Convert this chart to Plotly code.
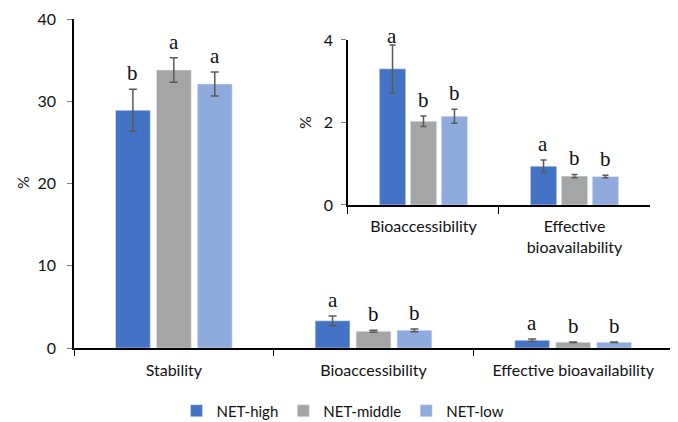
import plotly.graph_objects as go

categories = ["Stability", "Bioaccessibility", "Effective bioavailability"]
inset_categories = ["Bioaccessibility", "Effective bioavailability"]
inset_ticktext = ["Bioaccessibility", "Effective<br>bioavailability"]
series = ["NET-high", "NET-middle", "NET-low"]
y_title = "%"

high = [28.9, 3.30, 0.94]
middle = [33.8, 2.03, 0.70]
low = [32.1, 2.15, 0.69]
high_err = [2.55, 0.58, 0.15]
middle_err = [1.5, 0.13, 0.04]
low_err = [1.45, 0.17, 0.03]
high_letters = ["b", "a", "a"]
middle_letters = ["a", "b", "b"]
low_letters = ["a", "b", "b"]

main_range = [0, 40]
inset_range = [0, 4]

colors = ["#4472C4", "#A5A5A5", "#8FAADC"]
values = [high, middle, low]
errors = [high_err, middle_err, low_err]
letters = [high_letters, middle_letters, low_letters]

TICKFONT = dict(family="Lato, Open Sans, sans-serif", size=16, color="#111")
LEGFONT = dict(family="Lato, Open Sans, sans-serif", size=15, color="#111")
LETTERFONT = dict(family="Liberation Serif, Times New Roman, serif", size=21, color="#111")

fig = go.Figure()

for name, vals, errs, col in zip(series, values, errors, colors):
    fig.add_trace(go.Bar(
        name=name, x=categories, y=vals, marker_color=col,
        error_y=dict(type="data", array=errs, color="#595959", thickness=1.5, width=4),
        xaxis="x", yaxis="y", showlegend=True,
    ))

for name, vals, errs, col in zip(series, values, errors, colors):
    fig.add_trace(go.Bar(
        name=name, x=inset_categories, y=vals[1:], marker_color=col,
        error_y=dict(type="data", array=errs[1:], color="#595959", thickness=1.5, width=3),
        xaxis="x2", yaxis="y2", showlegend=False,
    ))

# significance letters (kept inside the inset's top edge like the original)
main_slot = 40.9
inset_slot = 31.0
for i, (vals, errs, lets) in enumerate(zip(values, errors, letters)):
    off = i - 1
    for c, v, e, l in zip(categories, vals, errs, lets):
        fig.add_annotation(x=c, y=min(v + e, main_range[1] * 0.93), xref="x", yref="y",
                           text=l, showarrow=False, yanchor="bottom",
                           xshift=off * main_slot, yshift=2, font=LETTERFONT)
    for c, v, e, l in zip(inset_categories, vals[1:], errs[1:], lets[1:]):
        fig.add_annotation(x=c, y=min(v + e, inset_range[1] * 0.93), xref="x2", yref="y2",
                           text=l, showarrow=False, yanchor="bottom",
                           xshift=off * inset_slot, yshift=2, font=LETTERFONT)

# y-axis titles
fig.add_annotation(x=-0.0868, y=0.5015, xref="paper", yref="paper", text=y_title,
                   textangle=-90, showarrow=False, xanchor="center", yanchor="middle", font=TICKFONT)
fig.add_annotation(x=0.3856, y=0.687, xref="paper", yref="paper", text=y_title,
                   textangle=-90, showarrow=False, xanchor="center", yanchor="middle", font=TICKFONT)

# the page body has an 8px default margin, so the figure is sized/offset to fit the window
fig.update_layout(
    width=670, height=414,
    margin=dict(l=66, r=5, t=11, b=74, autoexpand=False),
    paper_bgcolor="white", plot_bgcolor="white",
    barmode="group", bargap=0.385, bargroupgap=0.15,
    font=TICKFONT,
    xaxis=dict(domain=[0, 1], type="category", showline=True, linecolor="black", linewidth=2,
               ticks="outside", tickson="boundaries", ticklen=6, tickcolor="black", tickwidth=1,
               tickfont=TICKFONT, showgrid=False, zeroline=False, anchor="y", automargin=False,
               ticklabelstandoff=7),
    yaxis=dict(domain=[0, 1], range=main_range, tickvals=[0, 10, 20, 30, 40], showline=True,
               linecolor="black", linewidth=1.5, ticks="outside", ticklen=5, tickcolor="#7f7f7f",
               tickfont=TICKFONT, showgrid=False, zeroline=False, ticklabelstandoff=8,
               automargin=False, anchor="x"),
    xaxis2=dict(domain=[0.4574, 0.9616], type="category", showline=True, linecolor="black",
                linewidth=2, ticks="outside", tickson="boundaries", ticklen=7, tickcolor="black",
                tickvals=inset_categories, ticktext=inset_ticktext, automargin=False,
                tickfont=TICKFONT, showgrid=False, zeroline=False, anchor="y2",
                ticklabelstandoff=6),
    yaxis2=dict(domain=[0.4347, 0.9362], range=inset_range, tickvals=[0, 2, 4], showline=True,
                linecolor="black", linewidth=1.5, ticks="outside", ticklen=5, tickcolor="#7f7f7f",
                tickfont=TICKFONT, showgrid=False, zeroline=False, ticklabelstandoff=5,
                automargin=False, anchor="x2"),
    legend=dict(orientation="h", x=0.5, xanchor="center", xref="container",
                y=-0.1915, yanchor="middle", yref="paper", font=LEGFONT,
                itemwidth=30, traceorder="normal"),
)

fig.write_html("out.html")
